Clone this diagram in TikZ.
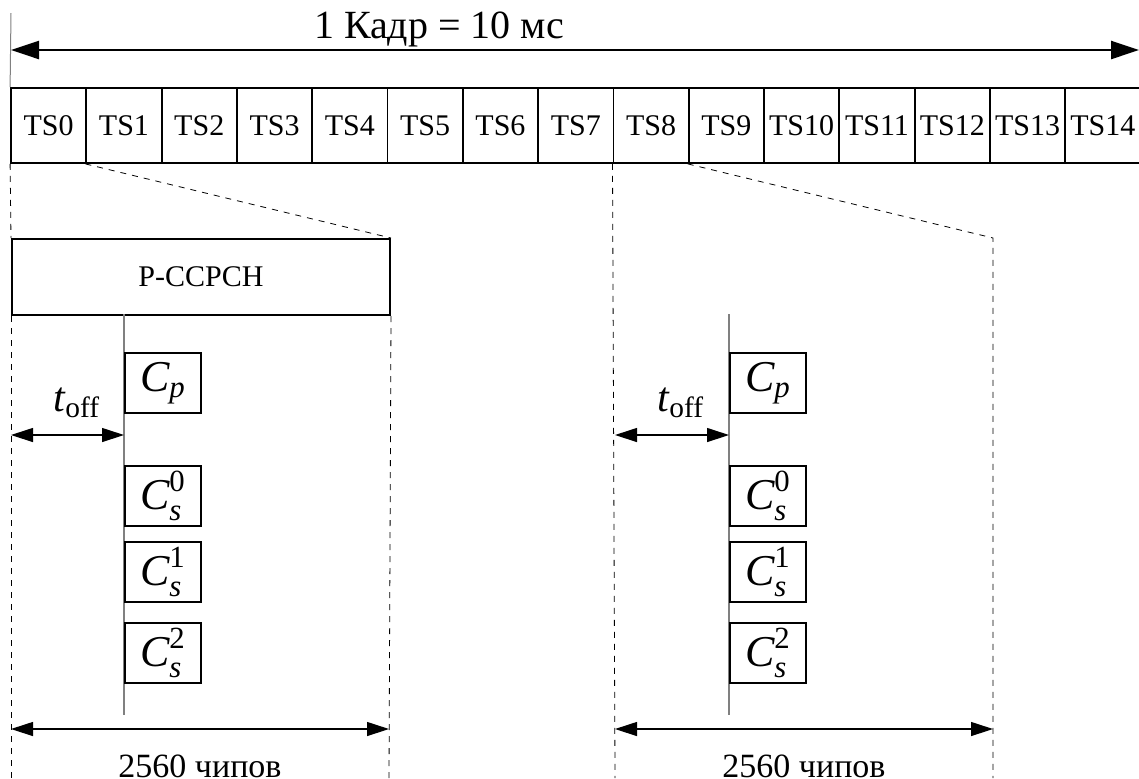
\documentclass[tikz,border=0pt]{standalone}
\usepackage{amsmath}
\usepackage{fontspec}
\setmainfont{LiberationSerif}[Extension=.ttf, UprightFont=*-Regular, ItalicFont=*-Italic, BoldFont=*-Bold, BoldItalicFont=*-BoldItalic]
\usetikzlibrary{arrows.meta}

\tikzset{
  slot/.style={draw, line width=0.9pt, minimum width=37.65pt, minimum height=37.5pt, inner sep=0pt, font=\fontsize{15}{18}\selectfont},
  code/.style={draw, line width=1pt, minimum width=38pt, minimum height=30pt, inner sep=0pt, anchor=north west, font=\fontsize{22}{26}\selectfont},
  proj/.style={dashed, line width=0.4pt},
  bigarrow/.style={{Triangle[length=14pt,width=9pt]}-{Triangle[length=14pt,width=9pt]}, line width=1.2pt},
  dimarrow/.style={{Triangle[length=11pt,width=7pt]}-{Triangle[length=11pt,width=7pt]}, line width=0.6pt}
}

\begin{document}
\begin{tikzpicture}[x=0.5pt, y=-0.5pt]
  \useasboundingbox (0,0) rectangle (1139,778);

  \foreach \i in {0,...,14}
    \node[slot] (ts\i) at ({11+75.3*(\i+0.5)},125.5) {TS\i};

  \coordinate (fl) at (11,50);
  \coordinate (fr) at (1139,50);
  \draw[bigarrow] (fl) -- (fr);
  \node[font=\fontsize{20}{24}\selectfont] (frame) at (439,29) {1 Кадр = 10 мс};
  \draw[gray, line width=0.5pt] (11,13) -- (ts0.north west);

  \node[draw, line width=1pt, minimum width=189pt, minimum height=38pt, anchor=north west,
        font=\fontsize{15}{18}\selectfont] (pc) at (11,238) {P-CCPCH};

  \draw[proj] (ts0.south west) -- (pc.north west);
  \draw[proj] (pc.south west) -- (11,778);
  \draw[proj] (ts1.south west) -- (pc.north east);
  \draw[proj] (pc.south east) -- (389,778);

  \coordinate (b9) at (993,238);
  \draw[proj] (ts8.south west) -- (615,778);
  \draw[proj] (ts9.south west) -- (b9) -- (993,778);

  \draw[gray, line width=0.6pt] (124,314) -- (124,715);
  \draw[gray, line width=0.6pt] (729,314) -- (729,715);

  \node[code] (cpa) at (124,352) {$\textit{C}_{\textit{p}}$};
  \node[code] (csa0) at (124,465) {$\textit{C}^{\textrm{0}}_{\textit{s}}$};
  \node[code] (csa1) at (124,541) {$\textit{C}^{\textrm{1}}_{\textit{s}}$};
  \node[code] (csa2) at (124,622) {$\textit{C}^{\textrm{2}}_{\textit{s}}$};

  \node[code] (cpb) at (729,352) {$\textit{C}_{\textit{p}}$};
  \node[code] (csb0) at (729,465) {$\textit{C}^{\textrm{0}}_{\textit{s}}$};
  \node[code] (csb1) at (729,541) {$\textit{C}^{\textrm{1}}_{\textit{s}}$};
  \node[code] (csb2) at (729,622) {$\textit{C}^{\textrm{2}}_{\textit{s}}$};

  \coordinate (oa1) at (11,435);
  \coordinate (oa2) at (124,435);
  \draw[dimarrow] (oa1) -- (oa2);
  \node[font=\fontsize{21}{25}\selectfont] (toffa) at (77,403) {$\textit{t}_{\textrm{off}}$};

  \coordinate (ob1) at (615,435);
  \coordinate (ob2) at (729,435);
  \draw[dimarrow] (ob1) -- (ob2);
  \node[font=\fontsize{21}{25}\selectfont] (toffb) at (681,403) {$\textit{t}_{\textrm{off}}$};

  \coordinate (da1) at (11,729);
  \coordinate (da2) at (389,729);
  \draw[dimarrow] (da1) -- (da2);
  \node[font=\fontsize{17}{20}\selectfont] (chipsa) at (200,766) {2560 чипов};

  \coordinate (db1) at (615,729);
  \coordinate (db2) at (993,729);
  \draw[dimarrow] (db1) -- (db2);
  \node[font=\fontsize{17}{20}\selectfont] (chipsb) at (804,766) {2560 чипов};
\end{tikzpicture}
\end{document}
